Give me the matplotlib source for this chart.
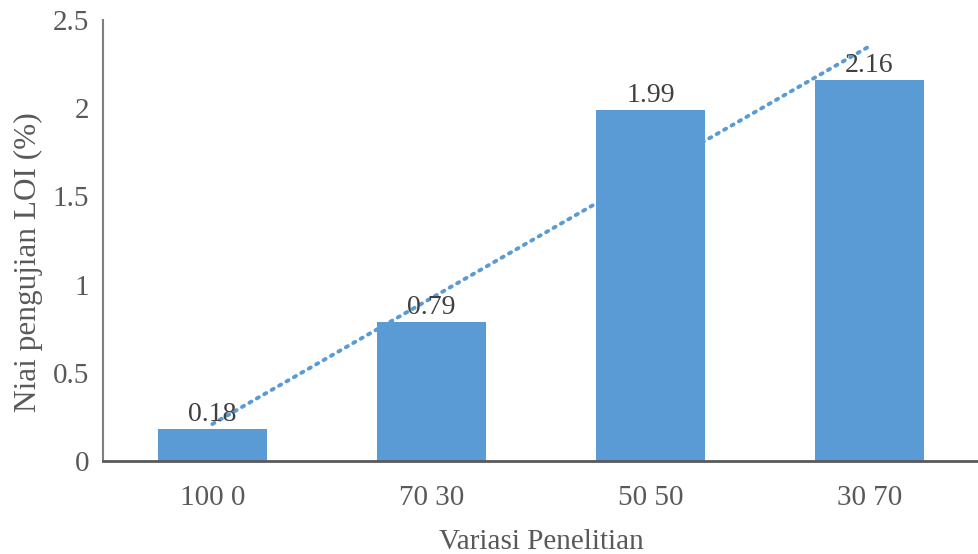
import numpy as np
import matplotlib.pyplot as plt
from matplotlib.ticker import FuncFormatter

# LOI test results per research variation
categories = ['100 0', '70 30', '50 50', '30 70']
loi_values = [0.18, 0.79, 1.99, 2.16]

bar_color = '#5B9BD5'
text_color = '#595959'

plt.rcParams['font.family'] = ['Liberation Serif', 'DejaVu Serif']

fig = plt.figure(figsize=(9.79, 5.54), dpi=100)
ax = fig.add_axes([0.105, 0.168, 0.895, 0.796])

x = np.arange(len(categories))
bars = ax.bar(x, loi_values, width=0.5, color=bar_color, zorder=2)

# value labels above each bar
for xi, v in zip(x, loi_values):
    ax.text(xi, v + 0.01, f'{v:.2f}', ha='center', va='bottom',
            fontsize=20, color='#404040', zorder=4)

# linear trendline through the bar values
slope, intercept = np.polyfit(x, loi_values, 1)
ax.plot(x, slope * x + intercept, linestyle=(0, (0.6, 1.6)),
        dash_capstyle='round', color=bar_color, linewidth=2.8, zorder=3)

ax.set_xlim(-0.5, 3.5)
ax.set_ylim(0, 2.5)
ax.set_xticks(x)
ax.set_xticklabels(categories)
ax.set_yticks([0, 0.5, 1, 1.5, 2, 2.5])
ax.yaxis.set_major_formatter(FuncFormatter(lambda v, p: f'{v:g}'))

ax.tick_params(axis='both', length=0, labelsize=21, colors=text_color)
ax.tick_params(axis='y', pad=10)
ax.tick_params(axis='x', pad=17)

for side in ['top', 'right']:
    ax.spines[side].set_visible(False)
ax.spines['left'].set_color('#7f7f7f')
ax.spines['left'].set_linewidth(1.5)
ax.spines['bottom'].set_color('#595959')
ax.spines['bottom'].set_linewidth(2)

ax.set_xlabel('Variasi Penelitian', fontsize=21, color=text_color)
ax.xaxis.set_label_coords(0.5, -0.155)
ax.set_ylabel('Niai pengujian LOI (%)', fontsize=22.5, color=text_color)
ax.yaxis.set_label_coords(-0.068, 0.45)

fig.savefig('out.png', dpi=100)
